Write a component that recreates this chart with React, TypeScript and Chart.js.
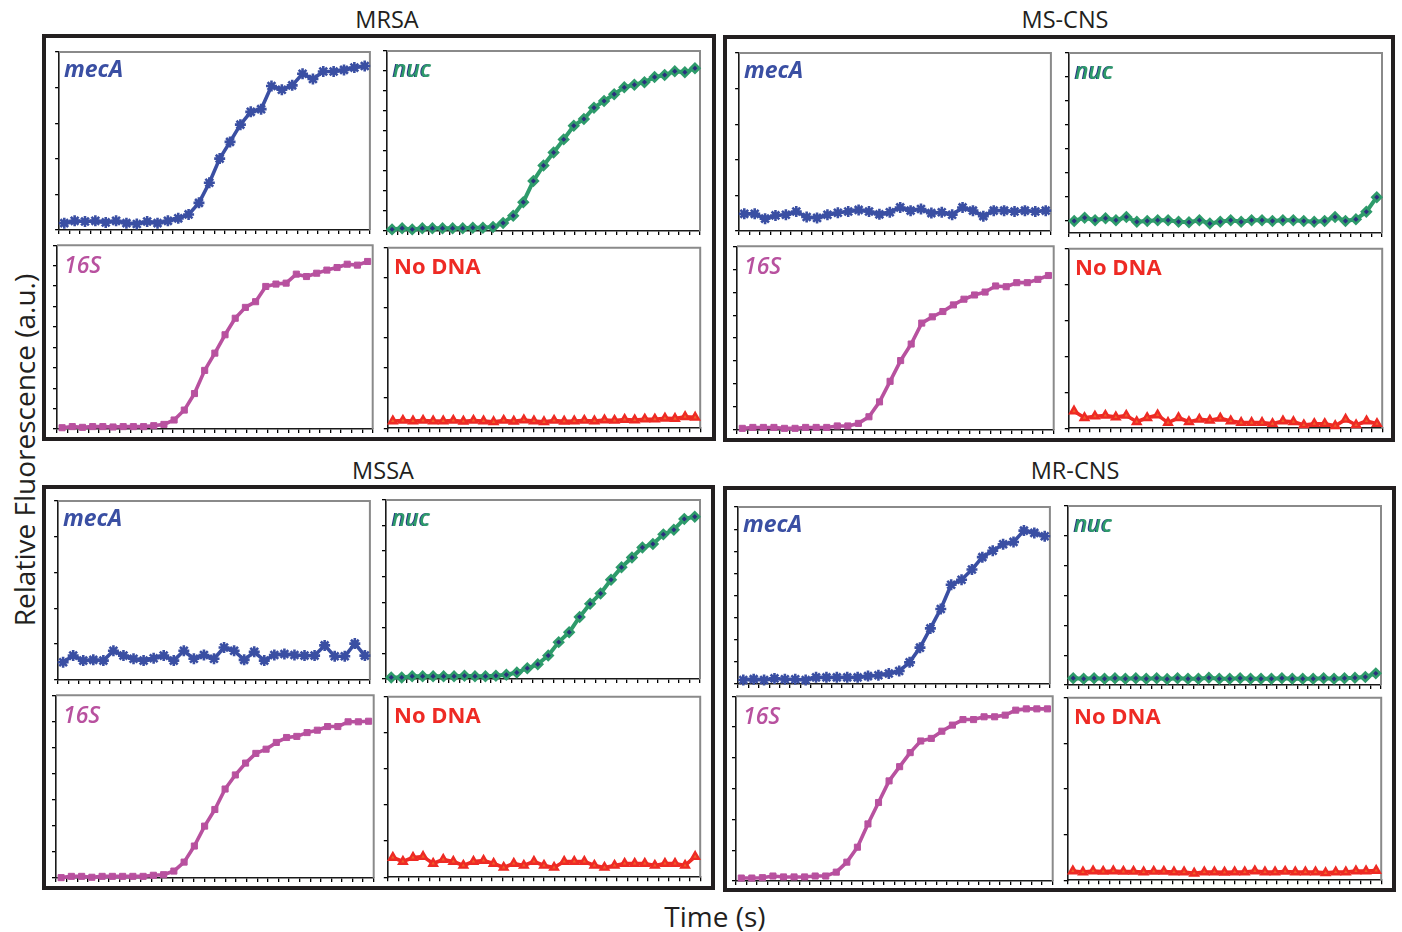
import React, { useEffect, useRef } from 'react';
import { Chart, registerables } from 'chart.js';

Chart.register(...registerables);

// ---- Data (relative fluorescence, % of each panel's axis range) ----
const mrsaMecA = [3.8, 5.1, 4.7, 5.1, 4.2, 5.1, 3.8, 3.3, 4.7, 3.8, 5.1, 6.5, 8.7, 15.2, 26.5, 40.1, 49.5, 59.2, 66.4, 67.9, 80.9, 78.8, 81.3, 87.8, 84.9, 89.1, 89.1, 90.0, 91.3, 92.2];
const mrsaNuc = [0.9, 1.5, 0.9, 1.5, 1.5, 1.5, 1.5, 1.5, 1.8, 1.8, 2.2, 4.5, 8.5, 16.0, 27.8, 36.4, 43.6, 50.9, 58.5, 62.2, 68.5, 72.2, 76.0, 79.8, 81.3, 82.7, 85.5, 86.7, 88.7, 88.2, 90.4];
const mrsa16S = [0.7, 1.3, 0.9, 1.3, 1.3, 1.1, 1.3, 1.3, 1.3, 1.8, 2.5, 4.9, 10.3, 19.3, 31.9, 41.3, 51.3, 60.3, 66.2, 69.3, 77.6, 78.9, 79.4, 84.3, 83.0, 84.8, 86.5, 87.9, 89.7, 89.2, 91.2];
const mrsaNoDNA = [4.0, 4.3, 4.0, 4.3, 4.0, 4.0, 4.3, 3.8, 4.3, 4.0, 3.5, 4.3, 3.8, 4.5, 4.0, 3.5, 4.3, 3.8, 4.0, 4.3, 4.0, 4.5, 4.3, 4.8, 4.5, 5.0, 5.0, 5.5, 5.3, 6.3, 6.0];

const mscnsMecA = [9.6, 9.6, 6.9, 8.7, 9.1, 10.9, 7.8, 7.3, 9.1, 10.2, 10.9, 11.8, 10.9, 9.3, 10.5, 13.2, 11.4, 12.3, 10.0, 10.5, 9.1, 13.2, 11.4, 8.3, 11.4, 11.4, 10.9, 11.4, 10.9, 11.4];
const mscnsNuc = [6.7, 8.5, 7.1, 8.2, 7.1, 8.9, 6.2, 6.7, 7.1, 7.1, 6.3, 6.0, 7.1, 5.3, 6.3, 7.1, 6.2, 7.1, 7.1, 6.7, 7.1, 7.1, 6.7, 6.2, 6.7, 8.9, 6.7, 7.6, 11.8, 19.9];
const mscns16S = [0.9, 1.4, 1.4, 1.4, 0.9, 0.9, 1.4, 1.4, 1.4, 2.2, 2.2, 3.6, 7.2, 15.3, 26.5, 37.8, 46.8, 58.2, 61.6, 64.5, 68.1, 71.2, 73.5, 75.1, 78.4, 78.0, 80.2, 80.2, 82.0, 84.1];
const mscnsNoDNA = [9.5, 5.8, 6.7, 7.1, 6.2, 7.1, 3.6, 5.8, 7.3, 3.1, 5.8, 3.6, 4.9, 4.4, 5.5, 4.0, 3.1, 3.1, 3.1, 2.5, 4.0, 3.6, 1.8, 2.5, 2.5, 1.3, 4.9, 1.8, 4.0, 2.5];

const mssaMecA = [9.9, 13.6, 10.8, 11.2, 10.8, 16.3, 13.6, 11.8, 10.8, 12.1, 13.6, 10.8, 16.3, 11.8, 13.9, 11.8, 18.1, 16.3, 11.2, 15.7, 10.8, 13.9, 14.5, 13.9, 13.6, 13.6, 19.3, 13.2, 13.2, 20.3, 13.6];
const mssaNuc = [0.9, 0.9, 1.5, 1.5, 1.5, 1.5, 1.5, 1.8, 1.5, 1.5, 1.8, 2.4, 3.6, 6.0, 8.2, 13.1, 20.6, 26.1, 34.7, 42.0, 47.8, 55.5, 62.4, 67.9, 73.5, 75.4, 80.8, 83.4, 89.4, 90.7];
const mssa16S = [0.2, 0.9, 0.9, 0.4, 0.9, 0.9, 0.9, 0.9, 0.9, 1.5, 1.8, 3.8, 8.7, 17.5, 28.4, 37.5, 48.7, 56.4, 62.9, 68.2, 70.5, 74.2, 76.9, 77.5, 79.6, 80.9, 82.9, 82.9, 85.5, 85.5, 85.8];
const mssaNoDNA = [10.9, 8.7, 10.9, 11.4, 7.6, 9.8, 8.7, 6.5, 8.7, 9.2, 7.6, 5.4, 7.6, 6.5, 8.7, 6.5, 5.4, 8.7, 8.7, 8.7, 6.5, 5.4, 6.5, 7.6, 7.6, 7.6, 6.5, 7.6, 7.6, 6.5, 11.4];

const mrcnsMecA = [2.2, 2.7, 2.2, 3.1, 2.6, 2.6, 2.2, 3.7, 3.7, 3.7, 3.7, 3.7, 4.4, 4.9, 5.9, 7.3, 12.2, 20.5, 31.4, 42.4, 56.1, 58.9, 64.7, 71.7, 75.3, 79.0, 80.3, 86.7, 85.4, 83.5];
const mrcnsNuc = [3.8, 3.5, 3.8, 3.5, 3.8, 3.5, 3.8, 3.5, 3.8, 3.3, 3.8, 3.5, 3.5, 4.0, 3.5, 3.5, 3.8, 3.5, 3.5, 3.5, 3.8, 3.5, 3.5, 3.5, 3.8, 3.5, 3.8, 4.0, 4.5, 6.5];
const mrcns16S = [1.6, 1.6, 1.8, 2.7, 2.2, 2.2, 2.2, 2.7, 2.7, 4.8, 10.2, 18.3, 30.9, 42.5, 54.2, 61.9, 69.5, 75.8, 77.2, 81.1, 84.4, 87.4, 87.4, 88.9, 88.9, 89.8, 92.5, 93.2, 93.2, 93.2];
const mrcnsNoDNA = [5.0, 4.5, 5.0, 4.8, 5.0, 4.8, 4.8, 4.5, 4.8, 4.8, 4.5, 4.5, 3.8, 4.5, 4.5, 4.3, 4.5, 4.5, 5.0, 4.5, 4.5, 4.8, 4.5, 4.5, 4.5, 4.0, 4.5, 4.5, 5.0, 5.0, 5.3];

// y-axis tick interval counts per panel (mecA, nuc, 16S, No DNA)
const mrsaYTicks = [5, 9, 9, 6];
const mscnsYTicks = [5, 7.5, 8, 5];
const mssaYTicks = [5, 7, 7, 5];
const mrcnsYTicks = [8, 6, 6, 4];
const xTickIntervals = 30;

const groupTitles = ['MRSA', 'MS-CNS', 'MSSA', 'MR-CNS'];
const panelLabels = ['mecA', 'nuc', '16S', 'No DNA'];
const yAxisTitle = 'Relative Fluorescence (a.u.)';
const xAxisTitle = 'Time (s)';

// ---- Styles / layout ----
type Kind = 0 | 1 | 2 | 3;
const KIND_STYLE = [
  { color: '#3A4FA3', lw: 3.6, point: 'star', r: 5.5, pbw: 2.6, pfill: '#3A4FA3', pborder: '#3A4FA3',
    font: 'italic 700 23px "Open Sans", sans-serif', shadow: 'none' },
  { color: '#2E9B6B', lw: 4, point: 'rectRot', r: 4.4, pbw: 2.6, pfill: '#2B2F7E', pborder: '#2E9B6B',
    font: 'italic 600 23px "Open Sans", sans-serif', shadow: '-1px 0 0 #2B3284' },
  { color: '#B8519F', lw: 3.6, point: 'rect', r: 4.3, pbw: 1, pfill: '#B8519F', pborder: '#B8519F',
    font: 'italic 600 23px "Open Sans", sans-serif', shadow: 'none' },
  { color: '#EE2A24', lw: 3.6, point: 'triangle', r: 4.4, pbw: 2.4, pfill: '#F0602A', pborder: '#EE2A24',
    font: '700 22px "Open Sans", sans-serif', shadow: 'none' },
];

type PanelDef = { kind: Kind; data: number[]; yInt: number; rect: [number, number, number, number] };

const PANELS: PanelDef[] = [
  { kind: 0, data: mrsaMecA, yInt: mrsaYTicks[0], rect: [57, 48, 374, 232] },
  { kind: 1, data: mrsaNuc, yInt: mrsaYTicks[1], rect: [386, 48, 703, 232] },
  { kind: 2, data: mrsa16S, yInt: mrsaYTicks[2], rect: [57, 244, 374, 429] },
  { kind: 3, data: mrsaNoDNA, yInt: mrsaYTicks[3], rect: [387, 245, 703, 429] },

  { kind: 0, data: mscnsMecA, yInt: mscnsYTicks[0], rect: [737, 49, 1055, 233] },
  { kind: 1, data: mscnsNuc, yInt: mscnsYTicks[1], rect: [1068, 50, 1385, 234] },
  { kind: 2, data: mscns16S, yInt: mscnsYTicks[2], rect: [737, 245, 1055, 430] },
  { kind: 3, data: mscnsNoDNA, yInt: mscnsYTicks[3], rect: [1068, 246, 1385, 429] },

  { kind: 0, data: mssaMecA, yInt: mssaYTicks[0], rect: [56, 497, 374, 682] },
  { kind: 1, data: mssaNuc, yInt: mssaYTicks[1], rect: [385, 497, 703, 680] },
  { kind: 2, data: mssa16S, yInt: mssaYTicks[2], rect: [56, 694, 375, 878] },
  { kind: 3, data: mssaNoDNA, yInt: mssaYTicks[3], rect: [387, 694, 703, 878] },

  { kind: 0, data: mrcnsMecA, yInt: mrcnsYTicks[0], rect: [736, 503, 1054, 686] },
  { kind: 1, data: mrcnsNuc, yInt: mrcnsYTicks[1], rect: [1067, 503, 1384, 686] },
  { kind: 2, data: mrcns16S, yInt: mrcnsYTicks[2], rect: [736, 695, 1054, 881] },
  { kind: 3, data: mrcnsNoDNA, yInt: mrcnsYTicks[3], rect: [1067, 695, 1384, 881] },
];

const GROUP_BOXES = [
  { title: groupTitles[0], box: [42, 34, 716, 441], titleX: 387, titleY: 20 },
  { title: groupTitles[1], box: [723, 35, 1395, 442], titleX: 1065, titleY: 20 },
  { title: groupTitles[2], box: [42, 485, 715, 890], titleX: 383, titleY: 471 },
  { title: groupTitles[3], box: [723, 486, 1396, 892], titleX: 1075, titleY: 471 },
];

const PAD_T = 4;
const PAD_R = 4;
const AX = 6;

const framePlugin = {
  id: 'grayFrame',
  beforeDatasetsDraw(chart: any) {
    const { ctx, chartArea: a } = chart;
    ctx.save();
    ctx.strokeStyle = '#8A8A8A';
    ctx.lineWidth = 2;
    ctx.beginPath();
    ctx.moveTo(a.left, a.top);
    ctx.lineTo(a.right, a.top);
    ctx.lineTo(a.right, a.bottom);
    ctx.stroke();
    ctx.restore();
  },
};

function Panel({ def }: { def: PanelDef }) {
  const ref = useRef<HTMLCanvasElement>(null);
  const [L, T, R, B] = def.rect;
  const w = R - L + AX + PAD_R;
  const h = B - T + PAD_T + AX;
  useEffect(() => {
    const st = KIND_STYLE[def.kind];
    const n = def.data.length;
    const chart = new Chart(ref.current as HTMLCanvasElement, {
      type: 'line',
      data: {
        datasets: [
          {
            data: def.data.map((v, i) => ({ x: i + 0.5, y: v })),
            borderColor: st.color,
            borderWidth: st.lw,
            pointStyle: st.point as any,
            pointRadius: st.r,
            pointBorderWidth: st.pbw,
            pointBackgroundColor: st.pfill,
            pointBorderColor: st.pborder,
            tension: 0,
            clip: 10 as any,
            borderJoinStyle: 'round',
          },
        ],
      },
      options: {
        animation: false,
        responsive: false,
        maintainAspectRatio: false,
        events: [],
        layout: { padding: { top: PAD_T, right: PAD_R, left: 0, bottom: 0 } },
        plugins: { legend: { display: false }, tooltip: { enabled: false } },
        scales: {
          x: {
            type: 'linear',
            min: 0,
            max: n,
            afterBuildTicks: (s: any) => {
              s.ticks = Array.from({ length: xTickIntervals + 1 }, (_, k) => ({ value: (k * n) / xTickIntervals }));
            },
            afterFit: (s: any) => {
              s.height = AX;
            },
            ticks: { display: false },
            grid: { drawOnChartArea: false, drawTicks: true, tickLength: 4, color: '#000', lineWidth: 1.3 },
            border: { display: true, color: '#1a1a1a', width: 1.6 },
          },
          y: {
            type: 'linear',
            min: 0,
            max: 100,
            afterBuildTicks: (s: any) => {
              const step = 100 / def.yInt;
              const arr: any[] = [];
              for (let v = 100; v > -0.01; v -= step) arr.push({ value: Math.max(0, v) });
              s.ticks = arr.reverse();
            },
            afterFit: (s: any) => {
              s.width = AX;
            },
            ticks: { display: false },
            grid: { drawOnChartArea: false, drawTicks: true, tickLength: 4, color: '#000', lineWidth: 1.3 },
            border: { display: true, color: '#1a1a1a', width: 1.6 },
          },
        },
      },
      plugins: [framePlugin],
    } as any);
    return () => chart.destroy();
  }, []);
  return (
    <canvas
      ref={ref}
      width={w}
      height={h}
      style={{ position: 'absolute', left: L - AX, top: T - PAD_T, width: w, height: h }}
    />
  );
}

function PanelLabel({ def }: { def: PanelDef }) {
  const st = KIND_STYLE[def.kind];
  const [L, T] = def.rect;
  return (
    <div
      style={{
        position: 'absolute',
        left: L + 7,
        top: T + 9,
        font: st.font,
        lineHeight: '22px',
        color: st.color,
        textShadow: st.shadow,
        whiteSpace: 'nowrap',
      }}
    >
      {panelLabels[def.kind]}
    </div>
  );
}

export default function App() {
  return (
    <div
      style={{
        position: 'absolute',
        left: 0,
        top: 0,
        width: 1402,
        height: 932,
        background: '#fff',
        overflow: 'hidden',
        fontFamily: '"Open Sans", sans-serif',
        color: '#231F20',
      }}
    >
      {GROUP_BOXES.map((g) => (
        <React.Fragment key={g.title}>
          <div
            style={{
              position: 'absolute',
              left: g.box[0],
              top: g.box[1],
              width: g.box[2] - g.box[0],
              height: g.box[3] - g.box[1],
              border: '4.5px solid #231F20',
              boxSizing: 'border-box',
            }}
          />
          <div
            style={{
              position: 'absolute',
              left: g.titleX - 100,
              top: g.titleY - 14,
              width: 200,
              textAlign: 'center',
              fontSize: 23.5,
              lineHeight: '26px',
              whiteSpace: 'nowrap',
            }}
          >
            {g.title}
          </div>
        </React.Fragment>
      ))}
      {PANELS.map((p, i) => (
        <Panel key={'c' + i} def={p} />
      ))}
      {PANELS.map((p, i) => (
        <PanelLabel key={'l' + i} def={p} />
      ))}
      <div
        style={{
          position: 'absolute',
          left: 24 - 250,
          top: 450 - 16,
          width: 500,
          height: 32,
          lineHeight: '32px',
          fontSize: 28,
          textAlign: 'center',
          transform: 'rotate(-90deg)',
          whiteSpace: 'nowrap',
        }}
      >
        {yAxisTitle}
      </div>
      <div
        style={{
          position: 'absolute',
          left: 615,
          top: 900,
          width: 200,
          lineHeight: '32px',
          fontSize: 28,
          textAlign: 'center',
          whiteSpace: 'nowrap',
        }}
      >
        {xAxisTitle}
      </div>
    </div>
  );
}
